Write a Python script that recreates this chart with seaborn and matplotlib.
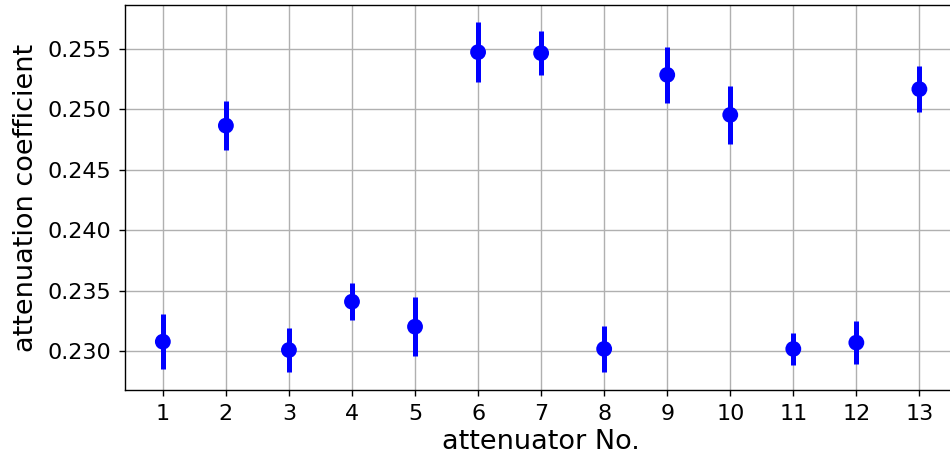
import numpy as np
import pandas as pd
import matplotlib
matplotlib.use('Agg')
import matplotlib.pyplot as plt
import seaborn as sns

# номера аттенюаторов и измеренные коэффициенты
attenuator = [1, 2, 3, 4, 5, 6, 7, 8, 9, 10, 11, 12, 13]
coef = [0.23077, 0.24865, 0.23008, 0.23408, 0.23201, 0.25473, 0.25465,
        0.23017, 0.25285, 0.24954, 0.23017, 0.23069, 0.25167]
coef_err = [0.00228, 0.00200, 0.00185, 0.00155, 0.00246, 0.00246, 0.00185,
            0.00193, 0.00229, 0.00242, 0.00135, 0.00180, 0.00190]

df = pd.DataFrame({'attenuator No.': attenuator,
                   'attenuation coefficient': coef,
                   'err': coef_err})

sns.set_style('ticks')
plt.rcParams['font.family'] = ['DejaVu Sans']
plt.rcParams.update({'text.color': 'black', 'axes.labelcolor': 'black',
                     'xtick.color': 'black', 'ytick.color': 'black'})

fig = plt.figure(figsize=(9.5, 4.59), dpi=100)
ax = fig.add_axes([0.1316, 0.1503, 0.876, 0.839])

ax.errorbar(df['attenuator No.'], df['attenuation coefficient'], yerr=df['err'],
            fmt='none', ecolor='blue', elinewidth=3.6, capsize=0, zorder=3)
sns.scatterplot(data=df, x='attenuator No.', y='attenuation coefficient',
                color='blue', s=130, edgecolor='none', ax=ax, zorder=4)

ax.set_xlim(0.4, 13.6)
ax.set_ylim(0.22677, 0.25864)
ax.set_xticks(attenuator)
ax.set_yticks([0.230, 0.235, 0.240, 0.245, 0.250, 0.255])
ax.tick_params(labelsize=16, colors='black', width=1, length=4, pad=6)
ax.set_xlabel('attenuator No.', fontsize=19.5, labelpad=4)
ax.set_ylabel('attenuation coefficient', fontsize=19.5, labelpad=6)
ax.grid(True, color='#b0b0b0', linewidth=1)
for s in ax.spines.values():
    s.set_color('black')
    s.set_linewidth(1)

fig.savefig('out.png', dpi=100)
